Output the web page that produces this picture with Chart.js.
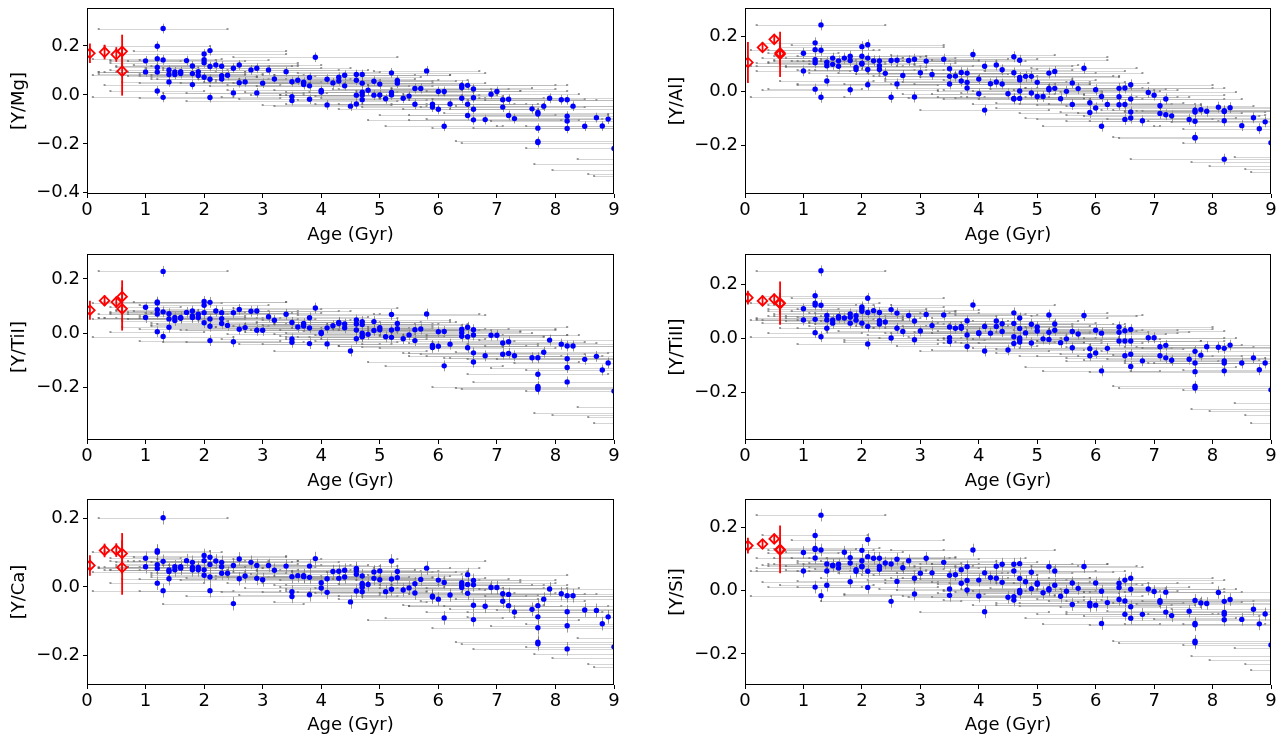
<!DOCTYPE html>
<html>
<head>
<meta charset="utf-8">
<script src="https://cdn.jsdelivr.net/npm/chart.js@4.4.1/dist/chart.umd.min.js"></script>
<style>
  body { margin: 0; background: #fff; width: 1287px; height: 737px; position: relative; overflow: hidden; }
  canvas { position: absolute; }
</style>
</head>
<body>
<canvas id="cMg" width="624" height="250" style="left:0px;top:0px"></canvas>
<canvas id="cAl" width="623" height="250" style="left:658px;top:0px"></canvas>
<canvas id="cTi1" width="624" height="250" style="left:0px;top:246px"></canvas>
<canvas id="cTi2" width="623" height="250" style="left:658px;top:246px"></canvas>
<canvas id="cCa" width="624" height="246" style="left:0px;top:491px"></canvas>
<canvas id="cSi" width="623" height="246" style="left:658px;top:491px"></canvas>
<script>
// star ages (Gyr) and their uncertainties, same stars in every panel
const ages = [
  1.0, 1.0, 1.2, 1.2, 1.2, 1.2, 1.2, 1.3, 1.3, 1.3, 1.4, 1.4, 1.4, 1.5, 1.5, 1.6, 1.6, 1.7,
  1.8, 1.8, 1.8, 1.9, 1.9, 2.0, 2.0, 2.0, 2.0, 2.1, 2.1, 2.1, 2.1, 2.2, 2.3, 2.3, 2.3, 2.4,
  2.5, 2.5, 2.6, 2.6, 2.7, 2.8, 2.9, 2.9, 3.0, 3.1, 3.2, 3.4, 3.5, 3.5, 3.5, 3.6, 3.7, 3.7,
  3.8, 3.8, 3.8, 3.9, 4.0, 4.0, 4.1, 4.1, 4.2, 4.3, 4.3, 4.4, 4.4, 4.5, 4.6, 4.6, 4.6, 4.6,
  4.7, 4.7, 4.7, 4.7, 4.7, 4.8, 4.9, 4.9, 5.0, 5.0, 5.1, 5.2, 5.2, 5.2, 5.3, 5.3, 5.4, 5.5,
  5.6, 5.6, 5.7, 5.8, 5.9, 5.9, 6.0, 6.0, 6.1, 6.1, 6.2, 6.4, 6.4, 6.4, 6.5, 6.5, 6.5,
  6.6, 6.6, 6.6, 6.6, 6.8, 6.9, 7.0, 7.1, 7.1, 7.2, 7.2, 7.3, 7.6, 7.7, 7.7, 7.7, 7.7, 7.7,
  7.8, 7.9, 8.1, 8.2, 8.2, 8.2, 8.2, 8.3, 8.5, 8.7, 8.8, 8.9, 9.0,
  9.4, 9.5, 9.6, 9.7, 9.8
];
const ageErr = [
  0.6, 0.8, 0.9, 1.1, 0.7, 1.0, 0.8, 1.1, 0.9, 1.2, 1.0, 1.3, 0.8, 1.2, 0.9, 1.1, 1.4, 1.0,
  1.3, 0.9, 1.5, 1.2, 1.0, 1.4, 1.1, 1.6, 0.9, 1.3, 1.5, 1.0, 1.2, 1.4, 1.2, 1.6, 1.1, 1.3,
  1.5, 1.2, 1.4, 1.7, 1.3, 1.5, 1.6, 1.2, 1.4, 1.7, 1.3, 1.6, 1.5, 1.2, 1.8, 1.4, 1.6, 1.3,
  1.5, 1.7, 1.2, 1.4, 1.6, 1.3, 1.5, 1.1, 1.7, 1.4, 1.6, 1.2, 1.5, 1.3, 1.6, 1.4, 1.8, 1.2,
  1.5, 1.7, 1.3, 1.4, 1.1, 1.6, 1.4, 1.2, 1.5, 1.7, 1.3, 1.6, 1.4, 1.8, 1.2, 1.5, 1.4, 1.6,
  1.3, 1.7, 1.5, 0.9, 1.6, 1.2, 1.4, 1.7, 1.3, 1.0, 1.5, 1.6, 1.2, 1.4, 1.7, 1.3, 1.5,
  1.4, 1.6, 1.2, 1.8, 1.3, 1.5, 1.2, 1.6, 1.4, 1.3, 1.7, 1.5, 1.4, 1.6, 1.2, 1.8, 1.4, 1.3,
  1.5, 1.2, 1.6, 1.4, 1.7, 1.3, 1.6, 1.2, 1.5, 1.4, 1.3, 1.6, 1.5,
  0.74, 0.94, 1.22, 1.75, 2.16
];
const abundErr = 0.02;

const yMg = [
  0.139, 0.094, 0.199, 0.148, 0.112, 0.093, 0.016, 0.271, 0.143, -0.010, 0.102, 0.083, 0.053, 0.094, 0.083, 0.095, 0.087, 0.140,
  0.118, 0.087, 0.042, 0.095, 0.079, 0.167, 0.144, 0.131, 0.072, 0.181, 0.116, 0.064, -0.011, 0.122, 0.117, 0.078, 0.065, 0.080,
  0.109, 0.008, 0.122, 0.050, 0.053, 0.102, 0.109, 0.008, 0.048, 0.102, 0.065, 0.095, 0.054, -0.007, -0.023, 0.060, 0.052, 0.042,
  0.071, 0.037, -0.018, 0.154, 0.018, 0.012, 0.064, -0.041, 0.049, 0.072, 0.057, 0.080, 0.037, -0.046, 0.083, 0.060, -0.001, -0.037,
  0.083, 0.048, 0.011, 0.000, -0.020, 0.019, 0.056, -0.001, 0.044, 0.000, -0.016, 0.090, 0.010, 0.000, 0.059, 0.048, -0.014, -0.005,
  0.026, -0.038, 0.026, 0.098, -0.038, -0.050, 0.014, -0.059, 0.014, -0.128, -0.037, 0.039, 0.030, -0.014, 0.039, -0.038, -0.084,
  0.024, -0.012, -0.059, -0.102, -0.101, 0.003, 0.014, -0.020, -0.050, -0.018, -0.084, -0.097, -0.057, -0.072, -0.078, -0.136, -0.190, -0.195,
  -0.046, -0.014, -0.020, -0.020, -0.087, -0.107, -0.137, -0.046, -0.128, -0.093, -0.127, -0.099, -0.219,
  -0.332, -0.322, -0.260, -0.305, -0.283
];
const yAl = [
  0.139, 0.074, 0.177, 0.152, 0.115, 0.104, 0.007, 0.243, 0.150, -0.023, 0.106, 0.093, 0.037, 0.121, 0.098, 0.111, 0.091, 0.121,
  0.128, 0.112, 0.005, 0.087, 0.079, 0.163, 0.128, 0.102, 0.099, 0.170, 0.121, 0.079, 0.023, 0.111, 0.111, 0.093, 0.079, 0.065,
  0.112, -0.023, 0.113, 0.026, 0.057, 0.112, 0.117, -0.022, 0.067, 0.110, 0.061, 0.117, 0.082, 0.054, 0.026, 0.055, 0.068, 0.037,
  0.066, 0.032, 0.011, 0.134, 0.044, -0.010, 0.091, -0.070, 0.027, 0.096, 0.033, 0.078, 0.026, -0.010, 0.126, 0.067, -0.027, -0.029,
  0.113, 0.050, 0.041, 0.000, -0.027, 0.054, 0.054, -0.007, 0.032, -0.020, -0.020, 0.066, 0.010, 0.005, 0.072, 0.010, -0.028, -0.001,
  0.030, -0.049, 0.009, 0.084, -0.043, -0.079, 0.005, -0.062, -0.020, -0.129, -0.049, 0.010, -0.021, -0.050, 0.011, -0.049, -0.104,
  0.023, -0.029, -0.077, -0.099, -0.109, -0.005, -0.015, -0.054, -0.082, -0.029, -0.087, -0.091, -0.104, -0.070, -0.077, -0.111, -0.170, -0.172,
  -0.068, -0.074, -0.059, -0.072, -0.075, -0.109, -0.250, -0.061, -0.127, -0.098, -0.138, -0.113, -0.190,
  -0.298, -0.287, -0.241, -0.274, -0.262
];
const yTi1 = [
  0.096, 0.058, 0.115, 0.112, 0.087, 0.071, 0.006, 0.228, 0.079, -0.012, 0.072, 0.053, 0.022, 0.058, 0.047, 0.058, 0.055, 0.077,
  0.082, 0.064, 0.058, 0.070, 0.058, 0.117, 0.103, 0.076, 0.039, 0.114, 0.053, 0.026, -0.027, 0.082, 0.076, 0.054, 0.036, 0.029,
  0.076, -0.031, 0.088, 0.015, 0.021, 0.081, 0.082, 0.011, 0.011, 0.061, 0.048, 0.070, 0.040, -0.021, -0.033, 0.023, 0.036, 0.027,
  0.057, 0.020, -0.038, 0.093, -0.001, 0.003, 0.020, -0.039, 0.028, 0.040, 0.036, 0.034, 0.020, -0.065, 0.049, 0.034, 0.012, -0.020,
  0.043, 0.032, 0.000, -0.011, -0.013, -0.004, 0.043, 0.010, 0.021, 0.013, -0.013, 0.069, 0.012, -0.015, 0.036, 0.017, -0.020, -0.006,
  0.013, -0.027, 0.016, 0.071, -0.045, -0.052, 0.006, -0.048, 0.007, -0.120, -0.040, 0.015, 0.002, -0.011, 0.022, -0.013, -0.053,
  0.013, -0.006, -0.072, -0.106, -0.083, -0.007, -0.007, -0.036, -0.077, -0.031, -0.074, -0.083, -0.090, -0.090, -0.151, -0.196, -0.200, -0.206,
  -0.070, -0.025, -0.040, -0.047, -0.094, -0.126, -0.179, -0.047, -0.096, -0.085, -0.135, -0.109, -0.213,
  -0.330, -0.307, -0.270, -0.300, -0.292
];
const yTi2 = [
  0.109, 0.068, 0.157, 0.130, 0.123, 0.070, 0.021, 0.249, 0.122, 0.006, 0.084, 0.068, 0.037, 0.068, 0.056, 0.081, 0.075, 0.075,
  0.090, 0.078, 0.056, 0.083, 0.067, 0.116, 0.109, 0.100, 0.056, 0.148, 0.095, 0.044, -0.021, 0.102, 0.095, 0.065, 0.053, 0.060,
  0.106, 0.001, 0.093, 0.037, 0.025, 0.084, 0.064, -0.005, 0.027, 0.088, 0.047, 0.086, 0.042, 0.002, -0.012, 0.037, 0.044, 0.037,
  0.065, 0.012, -0.030, 0.123, 0.021, 0.018, 0.044, -0.047, 0.019, 0.064, 0.044, 0.054, 0.025, -0.043, 0.094, 0.055, 0.006, -0.019,
  0.075, 0.036, 0.001, -0.005, -0.014, 0.020, 0.052, -0.017, 0.042, 0.027, -0.002, 0.086, 0.022, -0.004, 0.053, 0.030, -0.016, -0.002,
  0.025, -0.035, 0.016, 0.084, -0.038, -0.064, 0.030, -0.054, 0.019, -0.120, -0.037, 0.042, 0.022, -0.010, 0.028, -0.010, -0.064,
  0.033, -0.010, -0.059, -0.104, -0.083, 0.002, 0.002, -0.031, -0.064, -0.026, -0.072, -0.081, -0.077, -0.048, -0.091, -0.123, -0.177, -0.183,
  -0.062, -0.031, -0.033, -0.037, -0.083, -0.091, -0.120, -0.025, -0.091, -0.072, -0.116, -0.091, -0.190,
  -0.312, -0.281, -0.237, -0.269, -0.259
];
const yCa = [
  0.084, 0.059, 0.106, 0.102, 0.065, 0.054, 0.011, 0.203, 0.075, -0.011, 0.050, 0.045, 0.024, 0.059, 0.050, 0.059, 0.055, 0.077,
  0.072, 0.057, 0.050, 0.057, 0.050, 0.092, 0.077, 0.050, 0.034, 0.087, 0.066, 0.029, -0.011, 0.076, 0.072, 0.059, 0.040, 0.040,
  0.063, -0.049, 0.082, 0.024, 0.032, 0.072, 0.063, 0.025, 0.021, 0.063, 0.049, 0.061, 0.030, -0.014, -0.028, 0.033, 0.033, 0.030,
  0.061, 0.028, -0.023, 0.083, 0.012, -0.003, 0.024, -0.016, 0.045, 0.046, 0.025, 0.049, 0.029, -0.044, 0.054, 0.048, 0.037, -0.012,
  0.032, 0.010, 0.006, -0.001, -0.014, 0.007, 0.044, 0.025, 0.047, 0.021, -0.014, 0.076, 0.023, -0.007, 0.045, 0.027, -0.009, -0.003,
  0.009, -0.018, 0.022, 0.055, -0.027, -0.030, 0.020, -0.036, 0.013, -0.091, -0.024, 0.012, 0.005, -0.002, 0.036, 0.007, -0.019,
  0.019, 0.006, -0.054, -0.096, -0.057, -0.002, -0.002, -0.020, -0.042, -0.022, -0.055, -0.074, -0.066, -0.055, -0.088, -0.120, -0.162, -0.167,
  -0.036, -0.006, -0.020, -0.026, -0.073, -0.114, -0.182, -0.026, -0.068, -0.069, -0.108, -0.088, -0.176,
  -0.235, -0.225, -0.150, -0.210, -0.197
];
const ySi = [
  0.120, 0.062, 0.174, 0.133, 0.130, 0.103, 0.011, 0.238, 0.128, -0.016, 0.084, 0.062, 0.017, 0.080, 0.078, 0.083, 0.071, 0.121,
  0.104, 0.087, 0.028, 0.066, 0.061, 0.127, 0.094, 0.077, 0.075, 0.161, 0.107, 0.061, 0.010, 0.102, 0.102, 0.076, 0.067, 0.087,
  0.084, -0.034, 0.099, 0.029, 0.072, 0.094, 0.039, -0.011, 0.055, 0.102, 0.056, 0.089, 0.048, 0.005, -0.015, 0.050, 0.066, 0.023,
  0.075, 0.032, 0.002, 0.128, 0.033, -0.017, 0.056, -0.067, 0.041, 0.077, 0.039, 0.083, 0.026, -0.021, 0.083, 0.062, -0.019, -0.030,
  0.085, 0.038, 0.000, -0.007, -0.003, 0.028, 0.058, 0.006, 0.024, 0.020, -0.007, 0.075, 0.006, 0.002, 0.062, 0.017, -0.018, -0.002,
  0.024, -0.044, 0.007, 0.076, -0.040, -0.048, 0.024, -0.046, -0.002, -0.104, -0.038, 0.023, 0.010, -0.028, 0.033, -0.033, -0.075,
  0.039, 0.004, -0.051, -0.087, -0.075, 0.005, -0.003, -0.032, -0.037, -0.005, -0.068, -0.079, -0.065, -0.031, -0.104, -0.108, -0.160, -0.165,
  -0.039, -0.041, -0.006, -0.034, -0.069, -0.075, -0.092, -0.028, -0.091, -0.059, -0.105, -0.074, -0.172,
  -0.250, -0.233, -0.180, -0.220, -0.206
];

// young reference objects (red open diamonds)
const youngAges = [0.05, 0.3, 0.5, 0.6, 0.6];
const youngMg = [0.170, 0.175, 0.165, 0.178, 0.097];
const youngMgErr = [0.040, 0.030, 0.030, 0.068, 0.100];
const youngAl = [0.105, 0.160, 0.190, 0.140, 0.135];
const youngAlErr = [0.075, 0.015, 0.015, 0.040, 0.083];
const youngTi1 = [0.085, 0.120, 0.115, 0.135, 0.090];
const youngTi1Err = [0.035, 0.020, 0.020, 0.060, 0.080];
const youngTi2 = [0.150, 0.138, 0.145, 0.130, 0.128];
const youngTi2Err = [0.025, 0.015, 0.020, 0.080, 0.040];
const youngCa = [0.063, 0.107, 0.108, 0.098, 0.057];
const youngCaErr = [0.030, 0.020, 0.020, 0.060, 0.080];
const youngSi = [0.142, 0.147, 0.163, 0.130, 0.128];
const youngSiErr = [0.025, 0.015, 0.015, 0.075, 0.040];

const panels = [
  {id: 'cMg', label: '[Y/Mg]', vals: yMg, young: youngMg, youngErr: youngMgErr, min: -0.405, max: 0.355, axisH: 56, titlePad: 4},
  {id: 'cAl', label: '[Y/Al]', vals: yAl, young: youngAl, youngErr: youngAlErr, min: -0.378, max: 0.305, axisH: 56, titlePad: 4},
  {id: 'cTi1', label: '[Y/TiI]', vals: yTi1, young: youngTi1, youngErr: youngTi1Err, min: -0.393, max: 0.292, axisH: 56, titlePad: 4},
  {id: 'cTi2', label: '[Y/TiII]', vals: yTi2, young: youngTi2, youngErr: youngTi2Err, min: -0.375, max: 0.311, axisH: 56, titlePad: 4},
  {id: 'cCa', label: '[Y/Ca]', vals: yCa, young: youngCa, youngErr: youngCaErr, min: -0.288, max: 0.258, axisH: 52, titlePad: 1},
  {id: 'cSi', label: '[Y/Si]', vals: ySi, young: youngSi, youngErr: youngSiErr, min: -0.298, max: 0.289, axisH: 52, titlePad: 1}
];

Chart.defaults.font.family = 'DejaVu Sans';
Chart.defaults.color = '#000';

function makeErrorBars(p) {
  return {
    id: 'errorBars',
    beforeDatasetsDraw(chart) {
      const {ctx, chartArea: a, scales: {x, y}} = chart;
      ctx.save();
      ctx.beginPath();
      ctx.rect(a.left, a.top, a.right - a.left, a.bottom - a.top);
      ctx.clip();
      ctx.lineWidth = 1;
      p.vals.forEach((v, i) => {
        const py = Math.round(y.getPixelForValue(v)) + 0.5;
        const px = Math.round(x.getPixelForValue(ages[i])) + 0.5;
        const x0 = x.getPixelForValue(ages[i] - ageErr[i]);
        const x1 = x.getPixelForValue(ages[i] + ageErr[i]);
        ctx.strokeStyle = 'rgba(150,150,150,0.4)';
        ctx.beginPath();
        ctx.moveTo(x0, py);
        ctx.lineTo(x1, py);
        ctx.stroke();
        // small caps at the ends of the age bars
        ctx.fillStyle = 'rgba(90,90,90,0.6)';
        ctx.fillRect(x0 - 1, py - 1.5, 2, 2);
        ctx.fillRect(x1 - 1, py - 1.5, 2, 2);
        // abundance error
        const y0 = y.getPixelForValue(v + abundErr);
        const y1 = y.getPixelForValue(v - abundErr);
        ctx.strokeStyle = 'rgba(110,110,110,0.7)';
        ctx.beginPath();
        ctx.moveTo(px, y0);
        ctx.lineTo(px, y1);
        ctx.stroke();
      });
      ctx.strokeStyle = '#ff0000';
      ctx.lineWidth = 1.8;
      p.young.forEach((v, i) => {
        const px = x.getPixelForValue(youngAges[i]);
        ctx.beginPath();
        ctx.moveTo(px, y.getPixelForValue(v + p.youngErr[i]));
        ctx.lineTo(px, y.getPixelForValue(v - p.youngErr[i]));
        ctx.stroke();
      });
      ctx.restore();
    }
  };
}

const frame = {
  id: 'frame',
  afterDraw(chart) {
    const {ctx, chartArea: a} = chart;
    ctx.save();
    ctx.strokeStyle = '#000';
    ctx.lineWidth = 1;
    ctx.strokeRect(Math.round(a.left) + 0.5, Math.round(a.top) + 0.5,
      Math.round(a.right - a.left) - 1, Math.round(a.bottom - a.top) - 1);
    ctx.restore();
  }
};

function fmtY(v) {
  if (Math.abs(v) < 1e-9) return '0.0';
  return v.toFixed(1).replace('-', '\u2212');
}

panels.forEach(p => {
  new Chart(document.getElementById(p.id), {
    type: 'scatter',
    data: {
      datasets: [
        {
          data: ages.map((a, i) => ({x: a, y: p.vals[i]})),
          pointRadius: 2.7,
          pointHoverRadius: 2.7,
          backgroundColor: '#0000ff',
          borderWidth: 0,
          clip: 0
        },
        {
          data: youngAges.map((a, i) => ({x: a, y: p.young[i]})),
          pointStyle: 'rectRot',
          pointRadius: 4.8,
          pointHoverRadius: 4.8,
          borderColor: '#ff0000',
          borderWidth: 1.8,
          backgroundColor: 'rgba(0,0,0,0)',
          clip: 0
        }
      ]
    },
    options: {
      responsive: false,
      animation: false,
      events: [],
      layout: {padding: {top: 8, right: 10, left: 0, bottom: 0}},
      plugins: {legend: {display: false}, tooltip: {enabled: false}},
      scales: {
        x: {
          type: 'linear',
          min: 0,
          max: 9,
          afterFit: s => { s.height = p.axisH; s.paddingLeft = 0; s.paddingRight = 0; },
          border: {display: false},
          grid: {display: true, drawOnChartArea: false, drawTicks: true, tickLength: 4, tickColor: '#000'},
          ticks: {stepSize: 1, autoSkip: false, maxRotation: 0, padding: 2, font: {size: 18}, color: '#000'},
          title: {display: true, text: 'Age (Gyr)', font: {size: 18}, color: '#000', padding: {top: 0, bottom: p.titlePad}}
        },
        y: {
          type: 'linear',
          min: p.min,
          max: p.max,
          afterFit: s => { s.width = 87; s.paddingTop = 0; s.paddingBottom = 0; },
          border: {display: false},
          grid: {display: true, drawOnChartArea: false, drawTicks: true, tickLength: 4, tickColor: '#000'},
          ticks: {stepSize: 0.2, includeBounds: false, padding: 3, font: {size: 18}, color: '#000', callback: fmtY},
          title: {display: true, text: p.label, font: {size: 18}, color: '#000', padding: {top: 9, bottom: 0}}
        }
      }
    },
    plugins: [makeErrorBars(p), frame]
  });
});
</script>
</body>
</html>
